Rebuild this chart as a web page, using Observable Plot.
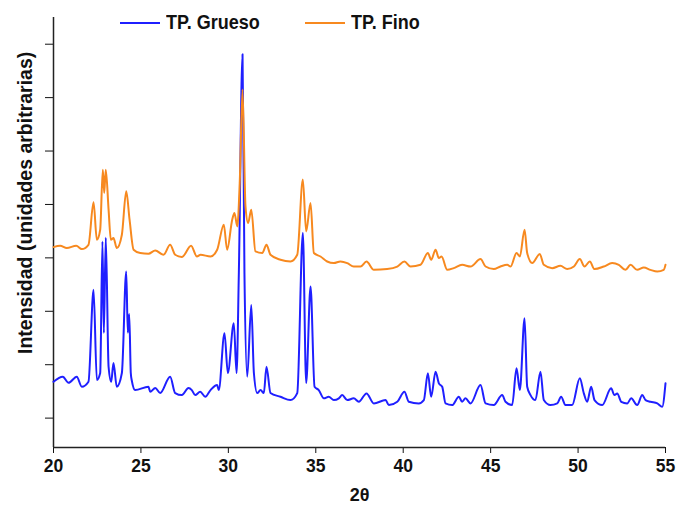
<!DOCTYPE html>
<html>
<head>
<meta charset="utf-8">
<script src="https://cdn.jsdelivr.net/npm/d3@7"></script>
<script src="https://cdn.jsdelivr.net/npm/@observablehq/plot@0.6"></script>
<style>
  html, body { margin: 0; padding: 0; background: #fff; }
  #wrap { position: relative; width: 679px; height: 513px; font-family: "Liberation Sans", Arial, sans-serif; }
  #legend { position: absolute; top: 12px; left: 0; width: 679px; height: 26px; font-weight: bold; font-size: 18px; color: #111; }
  .item { position: absolute; top: 0; display: flex; align-items: center; }
  .swatch { width: 40px; height: 2px; margin-right: 6px; }
  .lab { display: inline-block; transform: scaleY(1.15); }
</style>
</head>
<body>
<div id="wrap">
  <div id="chart"></div>
  <div id="legend"></div>
</div>
<script>
// Series names and colours
const seriesNames = ["TP. Grueso", "TP. Fino"];
const seriesColors = ["#1f1fff", "#f7891f"];

// TP. Grueso (2θ, intensity in arbitrary units)
const gruesoX = [20.00,20.53,20.86,21.33,21.62,22.00,22.29,22.48,22.67,22.80,22.88,22.99,23.15,23.30,23.43,23.62,23.91,24.16,24.25,24.33,24.42,24.48,24.67,25.43,25.53,25.82,26.10,26.67,26.96,27.34,27.72,27.91,28.10,28.39,28.68,28.98,29.36,29.45,29.78,29.97,30.31,30.47,30.60,30.81,30.92,31.08,31.31,31.46,31.65,31.84,32.03,32.18,32.41,32.98,33.55,33.94,34.26,34.45,34.70,34.93,35.17,35.46,35.74,36.03,36.32,36.51,36.80,37.17,37.46,37.90,38.32,38.99,39.18,39.66,40.07,40.32,40.89,41.18,41.41,41.60,41.85,42.04,42.23,42.42,42.80,43.18,43.37,43.56,43.85,44.42,44.71,45.18,45.66,45.85,46.23,46.48,46.67,46.94,47.09,47.28,47.56,47.85,48.04,48.42,48.81,49.03,49.28,49.66,50.10,50.33,50.52,50.75,50.94,51.38,51.89,52.08,52.24,52.47,52.81,53.04,53.38,53.67,53.86,54.14,54.53,54.81,55.00];
const gruesoI = [1680,1775,1662,1775,1587,1681,3401,1713,1844,4307,2595,4377,1962,1681,2032,1587,1844,3745,2600,2950,1844,1700,1525,1587,1493,1563,1469,1775,1469,1431,1563,1525,1431,1493,1400,1525,1619,1525,2589,1844,2777,1844,3720,7810,3720,1775,3120,1844,1469,1525,1469,1962,1469,1400,1338,1469,4465,1657,3463,1587,1525,1370,1400,1338,1370,1431,1338,1370,1306,1463,1276,1338,1244,1306,1493,1306,1276,1338,1839,1400,1869,1651,1587,1276,1244,1400,1306,1370,1276,1619,1276,1244,1431,1306,1244,1932,1525,2870,1587,1431,1338,1869,1338,1244,1276,1400,1244,1244,1745,1463,1306,1587,1338,1244,1557,1431,1463,1306,1276,1370,1244,1431,1338,1306,1276,1212,1651];

// TP. Fino (2θ, intensity in arbitrary units)
const finoX = [20.00,20.38,20.76,21.30,21.62,22.00,22.29,22.48,22.67,22.82,22.90,22.99,23.15,23.28,23.43,23.62,23.91,24.16,24.35,24.58,24.96,25.43,25.82,26.29,26.67,26.96,27.34,27.87,28.20,28.41,28.98,29.36,29.74,29.93,30.22,30.35,30.51,30.65,30.81,30.98,31.13,31.31,31.55,31.94,32.18,32.41,32.98,33.55,33.94,34.26,34.45,34.70,34.89,35.27,35.65,36.03,36.41,36.80,37.17,37.56,37.90,38.32,39.08,39.66,40.07,40.42,40.99,41.41,41.60,41.85,42.04,42.19,42.52,42.89,43.37,43.85,44.42,44.71,45.18,45.56,45.95,46.14,46.48,46.67,46.94,47.09,47.38,47.81,48.04,48.52,48.99,49.38,49.76,50.10,50.37,50.67,50.94,51.47,51.95,52.33,52.71,53.00,53.38,53.76,54.14,54.53,54.90,55.00];
const finoI = [4202,4227,4183,4227,4165,4245,5039,4339,4527,5652,5215,5652,4902,4339,4371,4183,4433,5245,4714,4152,4090,4077,4139,4058,4245,4058,4015,4227,4026,4058,4026,4152,4621,4152,4714,4840,4589,5403,7153,4964,4653,4902,4120,4090,4245,4058,3964,3932,4058,5465,4495,5028,4090,4026,3932,3902,3932,3902,3838,3838,3932,3776,3790,3838,3932,3838,3870,4090,3964,4152,3996,4026,3776,3808,3870,3838,3977,3838,3790,3838,3870,3838,4090,4026,4527,4090,3902,4071,3870,3808,3851,3790,3838,3977,3838,3932,3790,3838,3902,3870,3776,3870,3776,3820,3776,3745,3776,3870];

// Axis ticks and labels
const xTicks = [20, 25, 30, 35, 40, 45, 50, 55];
const yTicks = [1000, 2000, 3000, 4000, 5000, 6000, 7000, 8000];
const xDomain = [20, 55];
const yDomain = [450, 8500];
const xLabel = "2θ";
const yLabel = "Intensidad (unidades arbitrarias)";
const yLabelAt = 5030;

const grueso = gruesoX.map((x, i) => ({x, y: gruesoI[i]}));
const fino = finoX.map((x, i) => ({x, y: finoI[i]}));
const yLabelData = [{text: yLabel, x: xDomain[0], y: yLabelAt}];

const chart = Plot.plot({
  width: 679,
  height: 513,
  marginLeft: 53,
  marginRight: 14,
  marginTop: 17,
  marginBottom: 66,
  style: {fontFamily: "'Liberation Sans', Arial, sans-serif", fontWeight: "bold", fontSize: "17.5px", color: "#111", background: "white"},
  x: {domain: xDomain, ticks: xTicks, tickFormat: d => String(d), tickSize: 6, tickPadding: 6, label: null},
  y: {domain: yDomain, ticks: yTicks, tickFormat: () => "", tickSize: 8, label: null},
  marks: [
    Plot.ruleX([xDomain[0]], {stroke: "#222", strokeWidth: 1.5}),
    Plot.ruleY([yDomain[0]], {stroke: "#222", strokeWidth: 1.5}),
    Plot.line(grueso, {x: "x", y: "y", stroke: seriesColors[0], strokeWidth: 2, curve: "monotone-x"}),
    Plot.line(fino, {x: "x", y: "y", stroke: seriesColors[1], strokeWidth: 2, curve: "monotone-x"}),
    Plot.text(yLabelData, {x: "x", y: "y", text: "text", dx: -28, rotate: -90, fontSize: 19.5, fontWeight: "bold", fill: "#111"}),
    Plot.text([xLabel], {frameAnchor: "bottom", dy: 53, fontSize: 18, fontWeight: "bold", fill: "#111"})
  ]
});
document.getElementById("chart").appendChild(chart);

// Legend (HTML, overlaid at the top)
const legend = document.getElementById("legend");
const legendLeft = [120, 305];
seriesNames.forEach((name, i) => {
  const item = document.createElement("div");
  item.className = "item";
  item.style.left = legendLeft[i] + "px";
  const sw = document.createElement("span");
  sw.className = "swatch";
  sw.style.background = seriesColors[i];
  const lab = document.createElement("span");
  lab.className = "lab";
  lab.textContent = name;
  item.appendChild(sw);
  item.appendChild(lab);
  legend.appendChild(item);
});
</script>
</body>
</html>
